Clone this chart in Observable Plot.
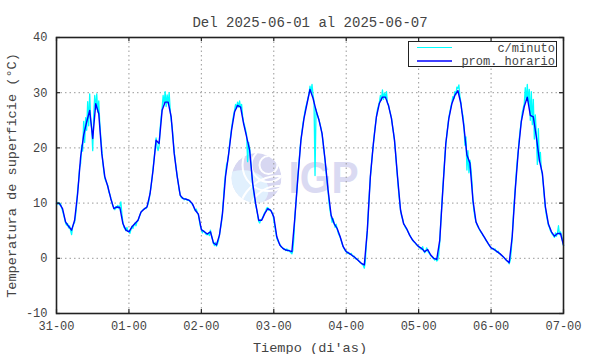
<!DOCTYPE html>
<html><head><meta charset="utf-8">
<script src="https://cdn.jsdelivr.net/npm/d3@7"></script>
<script src="https://cdn.jsdelivr.net/npm/@observablehq/plot@0.6"></script>
<style>
body{margin:0;background:#fff;}
#wrap{position:relative;width:590px;height:354px;}
#legend{position:absolute;left:408px;top:41px;width:149px;height:26px;box-sizing:border-box;border:1px solid #222;background:#fff;}
#chart svg [aria-label="x-axis label"] text, #chart svg [aria-label="y-axis label"] text{font-size:13.6px;}
</style>
</head><body>
<div id="wrap"><div id="chart"></div><div id="legend"></div></div>
<script>
const title = "Del 2025-06-01 al 2025-06-07";
const xLabel = "Tiempo (di'as)";
const yLabel = "Temperatura de superficie (°C)";
const tickHours = [0, 24, 48, 72, 96, 120, 144, 168];
const tickLabels = ["31-00","01-00","02-00","03-00","04-00","05-00","06-00","07-00"];
const yTicks = [-10, 0, 10, 20, 30, 40];
const seriesNames = ["c/minuto", "prom. horario"];
const seriesColors = ["#00ffff", "#0000ff"];

// hourly mean (prom. horario), one value per hour from 31-00 to 07-00
const hourly = [
  10.0, 9.9, 9.0, 6.6, 5.8, 5.1, 6.9, 11.7, 18.4, 22.3, 24.7, 26.8, 21.7, 28.0, 26.2, 19.0, 14.8, 13.0, 10.8, 9.0, 9.3, 9.2, 6.3, 5.1,
  4.8, 5.7, 6.3, 6.9, 8.4, 8.9, 9.3, 11.7, 16.0, 21.4, 20.8, 26.8, 28.3, 28.3, 25.6, 19.0, 14.8, 11.4, 10.8, 10.7, 10.5, 9.9, 8.7, 8.0,
  5.2, 4.8, 4.4, 4.8, 2.8, 2.4, 4.2, 8.1, 14.8, 18.7, 23.2, 26.5, 27.7, 27.4, 24.4, 22.0, 19.6, 13.6, 9.9, 6.9, 6.9, 8.1, 9.0, 8.7,
  7.5, 3.9, 2.4, 1.8, 1.5, 1.4, 1.2, 7.5, 14.8, 21.4, 25.3, 28.0, 30.6, 29.0, 26.8, 25.0, 22.6, 17.8, 12.3, 7.8, 6.3, 5.4, 3.9, 2.1,
  1.2, 0.9, 0.5, 0.1, -0.4, -0.9, -1.2, 5.1, 14.8, 20.8, 25.6, 28.1, 29.2, 29.2, 27.7, 25.3, 21.4, 14.8, 8.7, 6.3, 5.4, 4.2, 3.3, 2.7,
  2.1, 1.8, 1.2, 1.6, 0.6, 0.0, -0.2, 3.3, 12.3, 20.8, 25.3, 28.0, 29.5, 30.4, 28.0, 23.8, 18.7, 17.2, 10.5, 6.6, 5.4, 4.5, 3.6, 2.7,
  1.9, 1.6, 1.2, 0.8, 0.3, -0.3, -0.8, 3.9, 12.3, 19.3, 24.7, 27.5, 29.2, 25.9, 25.6, 22.0, 17.8, 15.4, 9.3, 6.2, 4.8, 4.0, 4.5, 4.5,
  2.4
];

// per-minute record, read every 20 minutes (3 values per hour)
const perMinute = [
  10.2, 9.8, 10.1, 9.7, 9.9, 9.2, 8.6, 7.9, 7.2, 6.4, 6.0, 6.3,
  5.5, 5.9, 5.0, 4.3, 5.6, 6.2, 6.5, 7.8, 9.6, 12.3, 14.0, 16.5,
  17.2, 20.5, 19.4, 24.8, 21.0, 25.5, 23.2, 28.4, 24.0, 29.8, 25.0, 23.5,
  19.5, 26.0, 29.5, 27.0, 29.8, 26.5, 28.5, 24.5, 22.0, 19.8, 17.5, 15.8,
  14.5, 14.0, 13.6, 13.2, 12.0, 11.6, 10.9, 10.2, 9.5, 9.2, 8.8, 9.4,
  9.1, 9.6, 9.0, 9.5, 10.2, 8.0, 6.6, 5.6, 5.4, 5.0, 5.6, 4.9,

  4.9, 4.5, 5.2, 5.8, 5.4, 6.0, 6.4, 5.9, 6.6, 6.8, 7.3, 7.9,
  8.3, 8.6, 8.8, 8.9, 9.1, 9.0, 9.4, 9.8, 10.5, 11.8, 13.0, 14.5,
  16.3, 18.0, 19.8, 21.8, 20.2, 19.5, 20.4, 23.5, 25.5, 27.2, 29.5, 28.0,
  30.2, 27.5, 29.6, 28.0, 30.0, 27.0, 25.0, 23.8, 21.5, 19.3, 17.8, 16.2,
  14.9, 13.6, 12.3, 11.5, 11.0, 10.9, 10.9, 10.6, 10.8, 10.7, 10.5, 10.6,
  10.4, 10.2, 10.0, 9.8, 9.5, 9.0, 8.6, 8.9, 8.2, 7.9, 6.8, 5.8,

  5.4, 4.6, 5.0, 4.9, 4.5, 4.3, 4.3, 4.6, 4.1, 5.1, 4.2, 3.5,
  2.7, 2.3, 2.9, 2.2, 2.6, 3.2, 4.3, 5.4, 6.5, 8.3, 10.8, 13.5,
  15.2, 16.9, 17.5, 18.8, 20.5, 22.0, 23.5, 24.8, 25.9, 26.8, 27.9, 27.2,
  28.3, 27.4, 28.5, 27.2, 27.9, 25.8, 24.6, 24.0, 23.2, 22.3, 17.5, 21.0,
  19.8, 17.6, 15.5, 13.4, 12.0, 10.8, 9.7, 8.8, 7.8, 6.7, 6.4, 6.9,
  7.1, 7.4, 7.9, 8.3, 8.6, 9.1, 9.2, 8.7, 8.9, 8.6, 8.4, 8.0,

  7.0, 5.8, 4.7, 3.6, 3.2, 2.8, 2.6, 2.1, 2.0, 1.9, 1.6, 1.7,
  1.4, 1.7, 1.3, 1.5, 1.2, 1.0, 0.8, 1.5, 3.8, 7.6, 10.0, 12.4,
  14.9, 17.2, 19.5, 21.5, 23.0, 24.4, 25.5, 26.6, 27.5, 28.2, 29.0, 29.8,
  31.2, 30.0, 31.5, 29.6, 28.4, 15.0, 27.0, 26.1, 25.6, 25.0, 24.3, 23.5,
  22.5, 21.0, 19.3, 17.6, 15.6, 13.8, 12.1, 10.0, 8.6, 7.6, 6.5, 7.2,
  6.3, 5.6, 6.2, 5.3, 4.6, 4.2, 3.8, 3.2, 2.6, 2.1, 1.7, 1.4,

  1.3, 0.9, 1.1, 0.8, 0.7, 0.9, 0.5, 0.3, 0.4, 0.0, -0.2, -0.1,
  -0.4, -0.6, -0.8, -0.9, -1.1, -1.3, -1.8, -0.5, 2.5, 5.0, 8.5, 11.8,
  14.6, 16.8, 18.9, 20.6, 22.6, 24.2, 25.6, 26.9, 27.6, 28.3, 29.5, 28.6,
  30.5, 28.8, 29.9, 29.0, 30.2, 28.1, 27.8, 26.9, 26.2, 25.4, 24.0, 22.8,
  21.3, 19.2, 16.8, 14.6, 12.3, 10.4, 8.8, 7.7, 7.2, 6.4, 6.0, 5.5,
  5.3, 5.0, 4.6, 4.3, 3.9, 3.6, 3.3, 3.0, 2.9, 2.7, 2.4, 2.3,

  2.2, 1.9, 1.7, 1.6, 2.1, 1.4, 1.0, 1.3, 1.9, 1.3, 1.0, 0.8,
  0.5, 0.3, 0.1, -0.1, -0.3, 0.0, -0.5, -0.3, 0.6, 3.0, 6.5, 9.5,
  12.5, 15.5, 18.2, 20.6, 22.4, 24.0, 25.5, 26.5, 27.4, 28.2, 29.3, 28.9,
  30.2, 29.6, 31.0, 30.8, 31.4, 29.4, 28.2, 26.6, 25.9, 24.2, 20.5, 22.0,
  16.0, 19.5, 15.5, 17.8, 16.2, 13.8, 10.3, 8.6, 7.4, 6.6, 6.1, 5.7,
  5.4, 5.0, 4.7, 4.5, 4.1, 3.9, 3.6, 3.2, 3.0, 2.7, 2.4, 2.1,

  2.0, 1.7, 1.8, 1.5, 1.7, 1.3, 1.1, 1.3, 0.9, 0.8, 0.6, 0.5,
  0.3, 0.1, -0.1, -0.3, -0.5, -0.6, -1.0, -0.4, 1.2, 3.8, 7.2, 10.2,
  12.6, 15.3, 17.6, 19.5, 21.6, 23.3, 24.8, 26.4, 27.2, 28.0, 30.9, 28.6,
  31.5, 28.3, 30.6, 25.0, 30.2, 24.2, 28.8, 21.6, 26.0, 22.4, 17.0, 23.5,
  17.5, 19.2, 16.0, 15.1, 13.2, 11.0, 9.1, 7.8, 6.9, 6.0, 5.6, 5.0,
  4.7, 4.3, 4.1, 3.8, 4.6, 4.0, 4.6, 5.9, 4.3, 4.8, 4.2, 3.2,
  2.3
];

const W = 590, H = 354, mT = 37, mB = 41, mL = 56, mR = 27;
const innerW = W - mL - mR, innerH = H - mT - mB, tick = 4;
const textColor = "#444";

const hourlyData = hourly.map((v, i) => ({t: i, v}));
const minuteData = perMinute.map((v, i) => ({t: i / 3, v}));

// IGP watermark drawn behind the data
function watermark(index, scales, values, dims) {
  const cx0 = (dims.marginLeft + dims.width - dims.marginRight) / 2;
  const cy0 = (dims.marginTop + dims.height - dims.marginBottom) / 2;
  const cx = cx0 - 53, cy = cy0 + 3, r = 25;
  const g = d3.create("svg:g").attr("aria-label", "watermark");
  const cp = g.append("clipPath").attr("id", "wm-clip");
  cp.append("circle").attr("cx", cx).attr("cy", cy).attr("r", r);
  const inner = g.append("g").attr("clip-path", "url(#wm-clip)");
  inner.append("circle").attr("cx", cx).attr("cy", cy).attr("r", r).attr("fill", "#d7d7f1");
  inner.append("ellipse").attr("cx", cx - 14).attr("cy", cy + 12).attr("rx", 26).attr("ry", 20).attr("fill", "#e1f0fd");
  [9, 17, 26].forEach(rr => inner.append("circle").attr("cx", cx + 12).attr("cy", cy - 13).attr("r", rr)
    .attr("fill", "none").attr("stroke", "#fff").attr("stroke-width", 2));
  [30, 40].forEach(rr => inner.append("circle").attr("cx", cx + 22).attr("cy", cy + 38).attr("r", rr)
    .attr("fill", "none").attr("stroke", "#fff").attr("stroke-width", 2));
  g.append("text").attr("x", cx0 - 21).attr("y", cy0 + 18).attr("text-anchor", "start")
    .attr("font-family", "Liberation Sans, Arial, sans-serif").attr("font-weight", "bold")
    .style("font-size", "45px").attr("textLength", 70).attr("lengthAdjust", "spacingAndGlyphs")
    .attr("fill", "#dadaf2").text("IGP");
  return g.node();
}

const plot = Plot.plot({
  width: W, height: H,
  marginTop: mT, marginBottom: mB, marginLeft: mL, marginRight: mR,
  style: {background: "transparent", fontFamily: '"Liberation Mono", monospace', fontSize: "12px", color: textColor, overflow: "visible"},
  x: {domain: [0, 168]},
  y: {domain: [-10, 40]},
  marks: [
    watermark,
    Plot.gridX(tickHours, {stroke: "#999", strokeOpacity: 1, strokeDasharray: "1.5,3"}),
    Plot.gridY(yTicks, {stroke: "#999", strokeOpacity: 1, strokeDasharray: "1.5,3"}),
    Plot.line(minuteData, {x: "t", y: "v", stroke: seriesColors[0], strokeWidth: 1.3}),
    Plot.line(hourlyData, {x: "t", y: "v", stroke: seriesColors[1], strokeWidth: 1.4}),
    Plot.ruleX(tickHours, {x: d => d, insetTop: innerH - tick, stroke: "#222", strokeWidth: 1.2}),
    Plot.ruleX(tickHours, {x: d => d, insetBottom: innerH - tick, stroke: "#222", strokeWidth: 1.2}),
    Plot.ruleY(yTicks, {y: d => d, insetRight: innerW - tick, stroke: "#222", strokeWidth: 1.2}),
    Plot.ruleY(yTicks, {y: d => d, insetLeft: innerW - tick, stroke: "#222", strokeWidth: 1.2}),
    Plot.frame({stroke: "#222", strokeWidth: 1.6}),
    Plot.axisX({ticks: tickHours, tickSize: 0, tickPadding: 8,
      tickFormat: d => tickLabels[tickHours.indexOf(d)],
      label: xLabel, labelAnchor: "center", labelArrow: "none", labelOffset: 38}),
    Plot.axisY({ticks: yTicks, tickSize: 0, tickPadding: 9, tickFormat: d => String(d),
      label: yLabel, labelAnchor: "center", labelArrow: "none", labelOffset: 50}),
    Plot.text([title], {frameAnchor: "top", dy: -20, fontSize: 14, fill: textColor})
  ]
});
document.getElementById("chart").appendChild(plot);

// legend
const lg = d3.select("#legend").append("svg").attr("width", 147).attr("height", 24)
  .style("position", "absolute").style("left", 0).style("top", 0).style("overflow", "visible");
seriesNames.forEach((name, i) => {
  const y = 5.5 + i * 13.5;
  lg.append("line").attr("x1", 8).attr("x2", 43).attr("y1", y).attr("y2", y)
    .attr("stroke", seriesColors[i]).attr("stroke-width", i ? 1.5 : 1);
  lg.append("text").attr("x", 146).attr("y", y).attr("dy", "0.35em").attr("text-anchor", "end")
    .attr("font-family", '"Liberation Mono", monospace').attr("font-size", 12).attr("fill", textColor).text(name);
});
</script>
</body></html>
